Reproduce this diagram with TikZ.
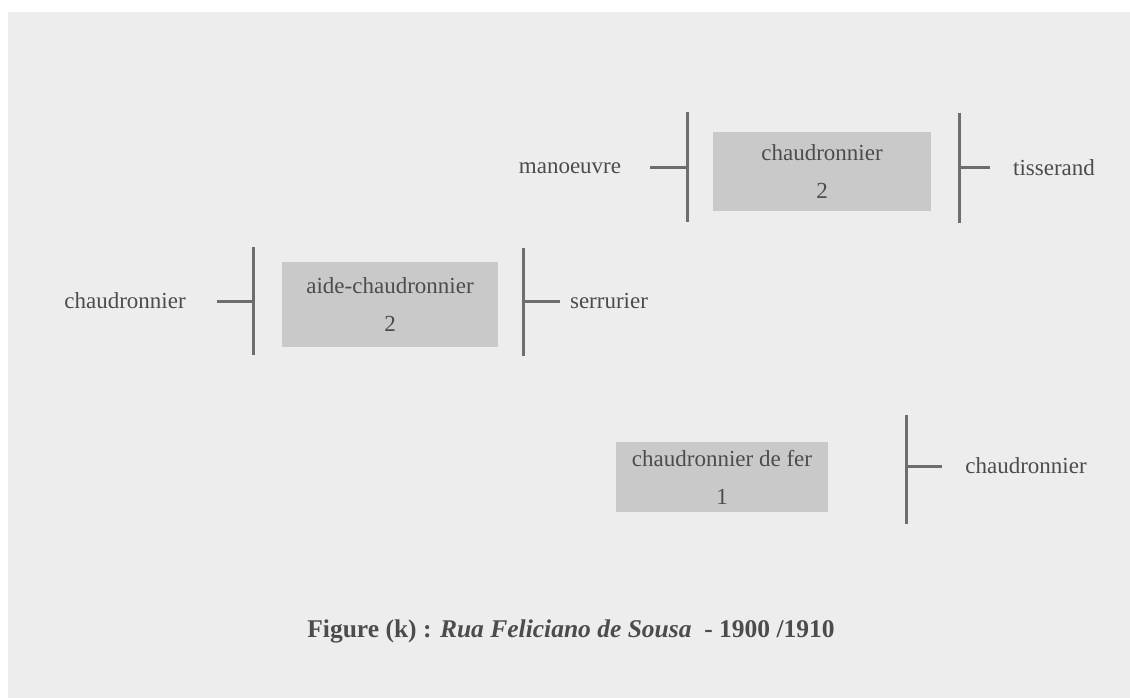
\documentclass[tikz,border=0pt]{standalone}
\usepackage{fontspec}
\setmainfont{Liberation Serif}
\definecolor{paper}{HTML}{EDEDED}
\definecolor{boxfill}{HTML}{C9C9C9}
\definecolor{ink}{HTML}{6E6E6E}
\definecolor{txt}{HTML}{4C4C4C}
\begin{document}
\begin{tikzpicture}[x=1pt,y=-1pt,
  every node/.style={text=txt,font=\fontsize{23}{27}\selectfont},
  trade/.style={inner sep=0pt,align=center},
  tradebox/.style={fill=boxfill,draw=none,inner sep=0pt,align=center,font=\fontsize{23}{38}\selectfont},
  bar/.style={draw=ink,line width=3pt},
  tick/.style={draw=ink,line width=3pt}]
\useasboundingbox (0,0) rectangle (1130,698);
\fill[paper] (8,12) rectangle (1130,698);

% upper group
\node[tradebox,minimum width=218pt,minimum height=79pt] (b1) at (822,171.5) {chaudronnier\\2};
\coordinate (b1lt) at (687,112); \coordinate (b1lb) at (687,222);
\coordinate (b1rt) at (959,113); \coordinate (b1rb) at (959,223);
\draw[bar] (b1lt) -- (b1lb);
\draw[bar] (b1rt) -- (b1rb);
\node[trade] (manoeuvre) at (570,168) {manoeuvre};
\node[trade] (tisserand) at (1054,168) {tisserand};
\coordinate (t1a) at (650,168); \coordinate (t1b) at (990,168);
\draw[tick] (t1a) -- (b1lt |- t1a);
\draw[tick] (b1rt |- t1b) -- (t1b);

% middle group
\node[tradebox,minimum width=216pt,minimum height=85pt] (b2) at (390,304.5) {aide-chaudronnier\\2};
\coordinate (b2lt) at (253,247); \coordinate (b2lb) at (253,355);
\coordinate (b2rt) at (523,248); \coordinate (b2rb) at (523,356);
\draw[bar] (b2lt) -- (b2lb);
\draw[bar] (b2rt) -- (b2rb);
\node[trade] (chaudL) at (125,301) {chaudronnier};
\node[trade] (serrurier) at (609,301) {serrurier};
\coordinate (t2a) at (217,301); \coordinate (t2b) at (560,301);
\draw[tick] (t2a) -- (b2lt |- t2a);
\draw[tick] (b2rt |- t2b) -- (t2b);

% lower group
\node[tradebox,minimum width=212pt,minimum height=70pt] (b3) at (722,477) {chaudronnier de fer\\1};
\coordinate (b3rt) at (906,415); \coordinate (b3rb) at (906,524);
\draw[bar] (b3rt) -- (b3rb);
\node[trade] (chaudR) at (1026,466) {chaudronnier};
\coordinate (t3b) at (942,466);
\draw[tick] (b3rt |- t3b) -- (t3b);

% caption
\node[font=\fontsize{25.5}{30}\selectfont\bfseries,text=txt] (caption) at (571,631)
  {Figure (k) : \textit{Rua Feliciano de Sousa}~~- 1900 /1910};
\end{tikzpicture}
\end{document}
